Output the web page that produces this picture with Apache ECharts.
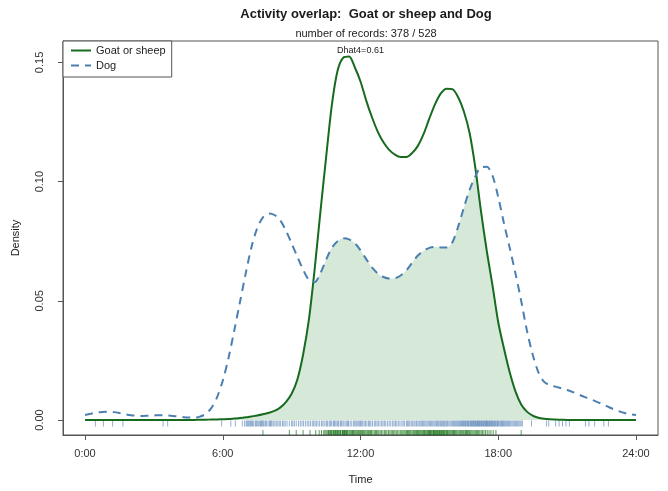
<!DOCTYPE html>
<html>
<head>
<meta charset="utf-8">
<script src="https://cdn.jsdelivr.net/npm/echarts@6/dist/echarts.min.js"></script>
<style>
  html, body { margin: 0; padding: 0; background: #ffffff; }
  #chart { width: 668px; height: 491px; }
</style>
</head>
<body>
<div id="chart"></div>
<script>
// Kernel density estimates of activity, sampled every 15 minutes from 0:00 to 24:00
const gridStep = 0.25;
const goatDensity = [
  0, 0, 0, 0, 0, 0, 0, 0, 0, 0,
  0, 0, 0, 0, 0, 0, 0, 0, 0, 0,
  0.0001, 0.0001, 0.0002, 0.0002, 0.0003, 0.0004, 0.0006, 0.0008,
  0.0011, 0.0015, 0.0019, 0.0024, 0.0030, 0.0038, 0.0052, 0.0075,
  0.0110, 0.0170, 0.0275, 0.0420, 0.0630, 0.0870, 0.1100, 0.1320,
  0.1465, 0.1520, 0.1525, 0.1480, 0.1420, 0.1340, 0.1270, 0.1210,
  0.1165, 0.1133, 0.1113, 0.1103, 0.1103, 0.1120, 0.1150, 0.1200,
  0.1265, 0.1325, 0.1370, 0.1390, 0.1388, 0.1355, 0.1295, 0.1205,
  0.1060, 0.0875, 0.0710, 0.0565, 0.0410, 0.0300, 0.0200, 0.0120,
  0.0065, 0.0035, 0.0018, 0.0009, 0.0005, 0.0003, 0.0002, 0.0001,
  0, 0, 0, 0, 0, 0, 0, 0, 0, 0, 0, 0, 0
];
const dogDensity = [
  0.0021, 0.0026, 0.0031, 0.0034, 0.0035, 0.0033, 0.0029, 0.0024,
  0.0020, 0.0018, 0.0017, 0.0018, 0.0019, 0.0020, 0.0020, 0.0018,
  0.0015, 0.0012, 0.0010, 0.0010, 0.0014, 0.0025, 0.0050, 0.0095,
  0.0165, 0.0260, 0.0375, 0.0495, 0.0615, 0.0725, 0.0805, 0.0850,
  0.0866, 0.0860, 0.0838, 0.0795, 0.0740, 0.0685, 0.0630, 0.0588,
  0.0578, 0.0615, 0.0672, 0.0722, 0.0750, 0.0762, 0.0758, 0.0742,
  0.0712, 0.0675, 0.0640, 0.0615, 0.0600, 0.0594, 0.0595, 0.0606,
  0.0628, 0.0660, 0.0690, 0.0710, 0.0722, 0.0726, 0.0724, 0.0724,
  0.0745, 0.0810, 0.0890, 0.0965, 0.1022, 0.1060, 0.1062, 0.1025,
  0.0935, 0.0825, 0.0722, 0.0615, 0.0500, 0.0375, 0.0275, 0.0200,
  0.0160, 0.0146, 0.0140, 0.0133, 0.0126, 0.0117, 0.0107, 0.0097,
  0.0088, 0.0078, 0.0068, 0.0057, 0.0046, 0.0037, 0.0029, 0.0024,
  0.0021
];

// Individual record times (hours) shown as rug ticks
const dogRecords = [
  0.45, 0.8, 1.2, 1.65, 3.4, 3.6, 5.95, 6.35, 6.55, 6.85,
  6.95, 7.02, 7.06, 7.1, 7.14, 7.18, 7.22, 7.26, 7.3, 7.35, 7.42, 7.46, 7.5,
  7.55, 7.61, 7.65, 7.68, 7.72, 7.76, 7.8, 7.86, 7.9, 7.97, 8.03, 8.07, 8.1,
  8.14, 8.2, 8.27, 8.33, 8.4, 8.46, 8.52, 8.6, 8.66, 8.72, 8.8, 8.9, 9.05,
  9.12, 9.3, 9.45, 9.6, 9.75, 9.9, 10.02, 10.15, 10.22, 10.3, 10.36, 10.42,
  10.5, 10.54, 10.58, 10.66, 10.7, 10.75, 10.82, 10.86, 10.9, 10.97, 11.01,
  11.05, 11.12, 11.16, 11.2, 11.27, 11.33, 11.4, 11.44, 11.48, 11.55, 11.62,
  11.7, 11.8, 11.9, 12.0, 12.1, 12.22, 12.35, 12.45, 12.6, 12.72, 12.85,
  12.98, 13.1, 13.25, 13.4, 13.52, 13.65, 13.8, 13.92, 14.05, 14.15, 14.27,
  14.38, 14.5, 14.6, 14.7, 14.8, 14.9, 15.0, 15.1, 15.2, 15.3, 15.38, 15.47,
  15.55, 15.63, 15.72, 15.8, 15.9, 16.0, 16.08, 16.16, 16.24, 16.32, 16.4,
  16.47, 16.54, 16.6, 16.67, 16.73, 16.8, 16.86, 16.92, 16.98, 17.04, 17.1,
  17.15, 17.21, 17.27, 17.33, 17.39, 17.45, 17.5, 17.56, 17.62, 17.68, 17.74,
  17.8, 17.87, 17.94, 18.0, 18.08, 18.15, 18.22, 18.3, 18.38, 18.46, 18.55,
  18.65, 18.75, 18.85, 18.95, 19.05, 19.45, 20.1, 20.2, 20.5, 20.65, 20.8,
  20.95, 21.1, 21.8, 21.95, 22.2, 22.6, 22.8,
  9.0, 9.2, 9.38, 9.52, 9.68, 9.82, 9.96, 10.08, 11.75, 11.85, 11.95, 12.05,
  12.16, 12.28, 12.4, 12.52, 12.66, 12.78, 12.92, 13.04, 13.18, 13.32, 13.46,
  13.58, 13.72, 13.86, 14.0, 14.1, 14.21, 14.33, 14.44, 14.55, 14.65, 14.75,
  14.85, 14.95, 15.05, 15.15, 15.25, 15.34, 15.42, 15.51, 15.59, 15.67, 15.76,
  15.85, 15.95, 16.04, 16.12, 16.2, 16.28, 16.36, 16.44, 16.5, 16.57, 16.64,
  16.7, 16.77, 16.83, 16.89, 16.95, 17.01, 17.07, 17.13, 17.18, 17.24, 17.3,
  17.36, 17.42, 17.48, 17.53, 17.59, 17.65, 17.71, 17.77, 17.84, 17.9, 17.97,
  18.04, 18.12, 18.19, 18.26, 18.34, 18.42, 18.5, 18.6, 18.7, 18.8, 18.9, 19.0
];
const goatRecords = [
  7.75, 8.9, 9.2, 9.5, 9.8, 10.05, 10.2, 10.3, 10.4, 10.45, 10.5, 10.55,
  10.6, 10.66, 10.7, 10.75, 10.8, 10.86, 10.9, 10.95, 11.0, 11.05, 11.1,
  11.14, 11.2, 11.25, 11.3, 11.36, 11.42, 11.5, 11.58, 11.65, 11.72, 11.8,
  11.88, 11.95, 12.05, 12.12, 12.2, 12.3, 12.4, 12.48, 12.6, 12.7, 12.8,
  12.92, 13.05, 13.15, 13.28, 13.4, 13.5, 13.62, 13.75, 13.85, 13.95,
  14.05, 14.12, 14.2, 14.3, 14.38, 14.45, 14.52, 14.6, 14.68, 14.75, 14.82,
  14.9, 14.96, 15.02, 15.08, 15.15, 15.2, 15.26, 15.32, 15.38, 15.44, 15.5,
  15.56, 15.62, 15.68, 15.75, 15.82, 15.9, 15.98, 16.05, 16.12, 16.2, 16.3,
  16.38, 16.46, 16.55, 16.62, 16.7, 16.8, 16.9, 17.0, 17.1, 17.2, 17.32,
  17.45, 17.6, 17.78, 17.9, 19.0,
  10.62, 10.72, 10.82, 10.92, 11.02, 11.12, 11.22, 11.28, 11.33, 11.39, 11.45,
  11.54, 11.62, 11.69, 11.76, 11.84, 11.92, 12.0, 12.08, 12.16, 12.25, 12.35,
  12.44, 12.54, 12.65, 12.75, 12.86, 12.98, 13.1, 13.22, 13.34, 13.45, 13.56,
  13.68, 13.8, 13.9, 14.0, 14.08, 14.16, 14.25, 14.34, 14.42, 14.49, 14.56,
  14.64, 14.72, 14.79, 14.86, 14.93, 15.0, 15.05, 15.11, 15.18, 15.23, 15.29,
  15.35, 15.41, 15.47, 15.53, 15.59, 15.65, 15.72, 15.79, 15.86, 15.94, 16.02,
  16.09, 16.16, 16.25, 16.34, 16.42, 16.5, 16.58, 16.66, 16.75, 16.85, 16.95,
  17.05, 17.15, 17.26, 17.38, 17.52, 17.68
];

const hourTicks = [0, 6, 12, 18, 24];
const hourLabels = ['0:00', '6:00', '12:00', '18:00', '24:00'];
const densityTicks = [0, 0.05, 0.10, 0.15];

const overlapIndex = 'Dhat4=0.61';
const recordCounts = [378, 528];
const seriesNames = ['Goat or sheep', 'Dog'];

// Pair each density value with its hour on the sampling grid
const toPoints = vals => vals.map((v, i) => [i * gridStep, v]);
const goatPts = toPoints(goatDensity);
const dogPts = toPoints(dogDensity);
// Overlap region is the pointwise minimum of the two densities
const overlapPts = goatDensity.map((v, i) => [i * gridStep, Math.min(v, dogDensity[i])]);

const dogRugY = -0.00147;
const goatRugY = -0.00525;

const FONT = '"Liberation Sans", Arial, sans-serif';
const chart = echarts.init(document.getElementById('chart'), null, { renderer: 'canvas' });

chart.setOption({
  backgroundColor: '#ffffff',
  animation: false,
  textStyle: { fontFamily: FONT },
  title: [
    {
      text: 'Activity overlap:  ' + seriesNames[0] + ' and ' + seriesNames[1],
      left: 361, top: 3, textAlign: 'center',
      textStyle: { fontFamily: FONT, fontSize: 13, fontWeight: 'bold', color: '#1a1a1a' }
    },
    {
      text: 'number of records: ' + recordCounts[0] + ' / ' + recordCounts[1],
      left: 361, top: 23, textAlign: 'center',
      textStyle: { fontFamily: FONT, fontSize: 11, fontWeight: 'normal', color: '#222' }
    }
  ],
  legend: {
    data: seriesNames,
    orient: 'vertical',
    left: 63, top: 41,
    backgroundColor: '#ffffff',
    borderColor: '#555',
    borderWidth: 1,
    borderRadius: 0,
    padding: [4, 6, 6, 7],
    itemGap: 4,
    itemWidth: 20,
    itemHeight: 10,
    itemStyle: { opacity: 0 },
    lineStyle: { width: 2 },
    textStyle: { fontFamily: FONT, fontSize: 11, color: '#222' }
  },
  grid: {
    left: 63, right: 10, top: 41, bottom: 56,
    show: true, borderColor: '#555', borderWidth: 1, backgroundColor: 'transparent'
  },
  xAxis: {
    type: 'value',
    min: -0.96, max: 24.96,
    name: 'Time',
    nameLocation: 'middle',
    nameGap: 39,
    nameTextStyle: { fontFamily: FONT, fontSize: 11, color: '#222' },
    splitLine: { show: false },
    axisLine: { show: true, onZero: false, lineStyle: { color: '#555', width: 1 } },
    axisTick: { show: true, length: 5, customValues: hourTicks, lineStyle: { color: '#555' } },
    axisLabel: {
      customValues: hourTicks,
      margin: 13,
      fontFamily: FONT, fontSize: 11, color: '#333',
      formatter: v => hourLabels[hourTicks.indexOf(Math.round(v))] || ''
    }
  },
  yAxis: {
    type: 'value',
    min: -0.0063, max: 0.159,
    name: 'Density',
    nameLocation: 'middle',
    nameGap: 42,
    nameTextStyle: { fontFamily: FONT, fontSize: 11, color: '#222' },
    splitLine: { show: false },
    axisLine: { show: true, onZero: false, lineStyle: { color: '#555', width: 1 } },
    axisTick: { show: true, length: 5, customValues: densityTicks, lineStyle: { color: '#555' } },
    axisLabel: {
      customValues: densityTicks,
      rotate: 90,
      margin: 18,
      fontFamily: FONT, fontSize: 11, color: '#333',
      formatter: v => v.toFixed(2)
    }
  },
  series: [
    {
      name: 'overlap',
      type: 'line',
      data: overlapPts,
      smooth: 0.3,
      symbol: 'none',
      lineStyle: { width: 0 },
      areaStyle: { color: '#d6e9d9', opacity: 1 },
      silent: true,
      z: 1
    },
    {
      name: 'dogRug',
      type: 'scatter',
      data: dogRecords.map(t => [t, dogRugY]),
      symbol: 'rect',
      symbolSize: [1, 6],
      itemStyle: { color: 'rgba(60,110,170,0.7)' },
      silent: true,
      z: 2
    },
    {
      name: 'goatRug',
      type: 'scatter',
      data: goatRecords.map(t => [t, goatRugY]),
      symbol: 'rect',
      symbolSize: [1, 5],
      itemStyle: { color: 'rgba(0,100,0,0.8)' },
      silent: true,
      z: 2
    },
    {
      name: seriesNames[0],
      type: 'line',
      data: goatPts,
      smooth: 0.3,
      symbol: 'none',
      itemStyle: { color: '#176b1f' },
      lineStyle: { color: '#176b1f', width: 2 },
      markPoint: {
        symbol: 'rect',
        symbolSize: 1,
        itemStyle: { color: 'rgba(0,0,0,0)' },
        silent: true,
        data: [{ coord: [12, 0.1552], value: overlapIndex }],
        label: {
          show: true, position: 'inside',
          formatter: overlapIndex,
          fontFamily: FONT, fontSize: 9, color: '#222'
        }
      },
      z: 3
    },
    {
      name: seriesNames[1],
      type: 'line',
      data: dogPts,
      smooth: 0.3,
      symbol: 'none',
      itemStyle: { color: '#4a7fb0' },
      lineStyle: { color: '#4a7fb0', width: 2, type: [8, 6] },
      z: 4
    }
  ]
});
</script>
</body>
</html>
